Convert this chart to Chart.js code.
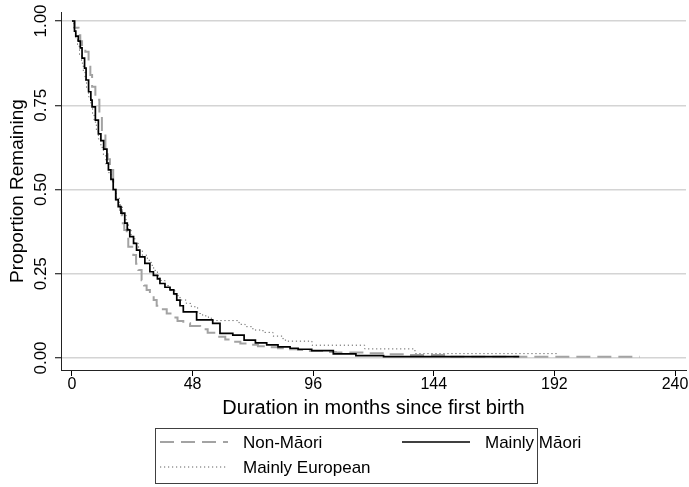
<!DOCTYPE html>
<html>
<head>
<meta charset="utf-8">
<script src="https://cdn.jsdelivr.net/npm/chart.js@4.4.1/dist/chart.umd.min.js"></script>
<style>
html,body{margin:0;padding:0;background:#fff;}
canvas{display:block;}
</style>
</head>
<body>
<canvas id="c" width="689" height="487"></canvas>
<script>
// ---- Data ----
const seriesLabels = ["Non-M\u0101ori", "Mainly M\u0101ori", "Mainly European"];

const nonMaoriMonths = [0,1,2.6,3.3,4,5.3,6.6,7.3,8,9.3,10.9,11.9,13.3,14.2,15.1,16.4,17.5,19.1,19.8,20.8,21.8,22.4,24.4,25.5,26.4,27.7,28.7,29.7,31,32.5,33.7,35.5,37.7,40,42,44.3,47,51,54,57.6,61,64.2,67,70.8,74,77.5,82,86.8,90,94.7,100,105,116.5,126,134,150,226];
const nonMaoriValues = [1.0,0.98,0.958,0.94,0.929,0.909,0.874,0.84,0.805,0.766,0.721,0.667,0.622,0.59,0.558,0.499,0.47,0.439,0.40,0.38,0.36,0.33,0.306,0.28,0.261,0.231,0.215,0.202,0.19,0.172,0.155,0.145,0.132,0.12,0.11,0.103,0.095,0.085,0.075,0.063,0.055,0.048,0.043,0.039,0.035,0.032,0.029,0.026,0.024,0.021,0.018,0.016,0.014,0.011,0.009,0.004,0.004];

const maoriMonths = [0,1,1.5,2.5,3.3,4,5,5.6,6.6,7.5,8,9.3,10.5,11.5,12.6,13.9,14.5,15.5,16.4,17.4,18.4,19.5,21,22,23,24.5,25.7,27,29,31,32.4,34,35,37,39,40.5,41.7,43,44.3,49.6,56,58.9,64,68.5,73,77.5,82,86.8,90,95.4,104,113,124,178];
const maoriValues = [1.0,0.97,0.955,0.94,0.92,0.89,0.86,0.825,0.79,0.765,0.745,0.706,0.665,0.645,0.62,0.578,0.558,0.53,0.50,0.47,0.449,0.43,0.40,0.38,0.36,0.34,0.32,0.30,0.281,0.256,0.245,0.235,0.221,0.21,0.202,0.19,0.172,0.155,0.137,0.113,0.103,0.073,0.068,0.053,0.045,0.039,0.033,0.029,0.026,0.022,0.012,0.007,0.004,0.004];

const europeanMonths = [0,0.8,1.5,2.2,3,3.8,4.5,5.2,5.8,6.6,7.5,8.2,8.8,9.7,10.5,11.5,12.5,13.5,14.5,15.5,16.5,17.6,18.8,20,21.5,22.5,23.5,25,26.5,28,30,31.5,32.5,34,35,37,39,41,43,45.5,47.5,50,52,54.3,56,66.5,68.9,72,76,80,84,85.5,95.5,116.5,136.5,193];
const europeanValues = [1.0,0.97,0.95,0.925,0.9,0.875,0.85,0.825,0.8,0.775,0.75,0.725,0.7,0.675,0.65,0.625,0.6,0.575,0.55,0.525,0.5,0.475,0.45,0.425,0.4,0.38,0.36,0.34,0.32,0.305,0.29,0.275,0.26,0.245,0.23,0.215,0.2,0.185,0.172,0.162,0.152,0.132,0.125,0.118,0.111,0.1,0.093,0.083,0.076,0.065,0.053,0.05,0.038,0.027,0.013,0.013];

const xTickValues = [0,48,96,144,192,240];
const xTickLabels = ["0","48","96","144","192","240"];
const yTickValues = [0,0.25,0.5,0.75,1];
const yTickLabels = ["0.00","0.25","0.50","0.75","1.00"];
const xTitle = "Duration in months since first birth";
const yTitle = "Proportion Remaining";

// ---- helpers ----
function pairs(xs, ys){ return xs.map((x,i)=>({x:x, y:ys[i]})); }
const FONT = "'Liberation Sans', Arial, Helvetica, sans-serif";

const yTickLabelPlugin = {
  id: 'yTickLabels',
  afterDraw(chart){
    const ctx = chart.ctx, ys = chart.scales.y;
    ctx.save();
    ctx.fillStyle = '#000';
    ctx.font = '17px ' + FONT;
    ctx.textAlign = 'center';
    ctx.textBaseline = 'middle';
    yTickValues.forEach((v,i)=>{
      const py = ys.getPixelForValue(v);
      ctx.save();
      ctx.translate(41, py);
      ctx.rotate(-Math.PI/2);
      ctx.fillText(yTickLabels[i], 0, 0);
      ctx.restore();
    });
    ctx.restore();
  }
};

const legendPlugin = {
  id: 'boxLegend',
  afterDraw(chart){
    const ctx = chart.ctx;
    const ds = chart.data.datasets;
    ctx.save();
    ctx.strokeStyle = '#404040';
    ctx.lineWidth = 1;
    ctx.strokeRect(155.5, 428.5, 382, 55);
    const slots = [ {x:160, y:442}, {x:402, y:442}, {x:160, y:467} ];
    ds.forEach((d,i)=>{
      const s = slots[i];
      ctx.save();
      ctx.strokeStyle = d.borderColor;
      ctx.lineWidth = d.borderWidth;
      ctx.setLineDash(d.borderDash || []);
      ctx.beginPath();
      ctx.moveTo(s.x, s.y);
      ctx.lineTo(s.x + 68, s.y);
      ctx.stroke();
      ctx.restore();
      ctx.fillStyle = '#000';
      ctx.font = '17px ' + FONT;
      ctx.textAlign = 'left';
      ctx.textBaseline = 'middle';
      ctx.fillText(d.label, s.x + 83, s.y + 1);
    });
    ctx.restore();
  }
};

new Chart(document.getElementById('c'), {
  type: 'line',
  data: {
    datasets: [
      { label: seriesLabels[0], data: pairs(nonMaoriMonths, nonMaoriValues), borderColor: '#a3a3a3', borderWidth: 2, borderDash: [14,7], stepped: true, pointRadius: 0, fill: false, order: 2 },
      { label: seriesLabels[1], data: pairs(maoriMonths, maoriValues), borderColor: '#000000', borderWidth: 1.7, borderDash: [], stepped: true, pointRadius: 0, fill: false, order: 0 },
      { label: seriesLabels[2], data: pairs(europeanMonths, europeanValues), borderColor: '#5e5e5e', borderWidth: 1, borderDash: [1.2,2.8], stepped: true, pointRadius: 0, fill: false, order: 1 }
    ]
  },
  options: {
    responsive: false,
    animation: false,
    devicePixelRatio: 1,
    layout: { padding: { top: 12, right: 3, left: 0, bottom: 67 } },
    plugins: { legend: { display: false }, tooltip: { enabled: false } },
    scales: {
      x: {
        type: 'linear',
        min: -4.378, max: 244.378,
        afterBuildTicks: s => { s.ticks = xTickValues.map(v => ({ value: v })); },
        afterFit: s => { s.height = 50; },
        ticks: { callback: (v, i) => xTickLabels[i], color: '#000', font: { family: FONT, size: 16 }, padding: -1, maxRotation: 0, autoSkip: false },
        grid: { drawOnChartArea: false, drawTicks: true, tickLength: 6, tickColor: '#000', tickWidth: 1 },
        border: { display: true, color: '#222', width: 1 },
        title: { display: true, text: xTitle, color: '#000', font: { family: FONT, size: 20 }, padding: { top: 0, bottom: 0 } }
      },
      y: {
        type: 'linear',
        min: -0.03561, max: 1.02671,
        afterBuildTicks: s => { s.ticks = yTickValues.map(v => ({ value: v })); },
        afterFit: s => { s.width = 61; },
        ticks: { display: false },
        grid: { drawOnChartArea: true, color: '#d4d4d4', lineWidth: 1.5, drawTicks: true, tickLength: 6, tickColor: '#000', tickWidth: 1 },
        border: { display: true, color: '#222', width: 1 },
        title: { display: true, text: yTitle, color: '#000', font: { family: FONT, size: 19 }, padding: { top: 6, bottom: 0 } }
      }
    }
  },
  plugins: [yTickLabelPlugin, legendPlugin]
});
</script>
</body>
</html>
